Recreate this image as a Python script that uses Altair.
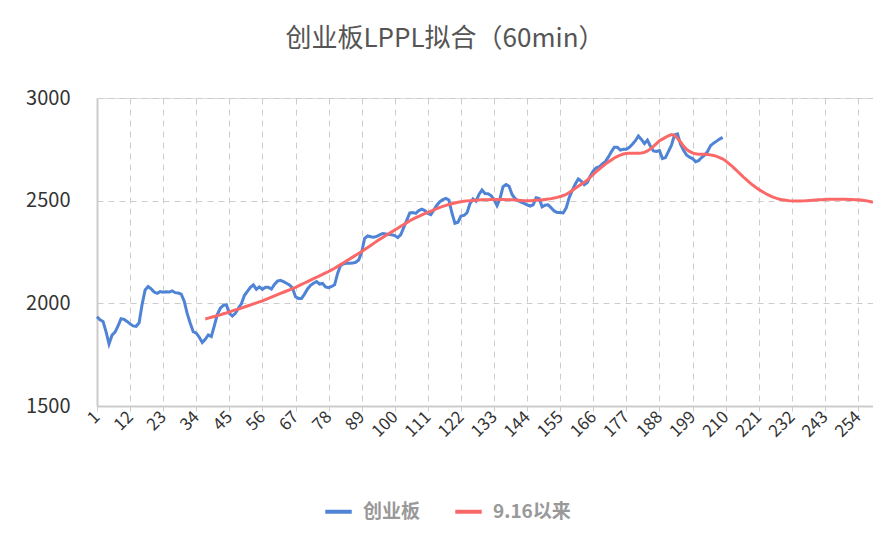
import altair as alt
import pandas as pd

# ---- data ----
blue_name = "创业板"
red_name = "9.16以来"

blue_start = 1
blue_values = [
    1935, 1920, 1912, 1862, 1802, 1845, 1860, 1890, 1925, 1922,
    1912, 1900, 1890, 1888, 1905, 1995, 2065, 2082, 2070, 2055,
    2049, 2057, 2054, 2056, 2055, 2061, 2052, 2050, 2045, 2010,
    1950, 1903, 1862, 1855, 1835, 1809, 1825, 1846, 1838, 1890,
    1945, 1976, 1990, 1993, 1951, 1938, 1951, 1976, 1998, 2038,
    2058, 2078, 2090, 2068, 2080, 2068, 2078, 2078, 2070, 2092,
    2108, 2112, 2106, 2098, 2090, 2075, 2032, 2024, 2024, 2045,
    2070, 2088, 2098, 2106, 2094, 2097, 2080, 2076, 2082, 2090,
    2146, 2185, 2193, 2195, 2195, 2196, 2200, 2211, 2250, 2317,
    2328, 2324, 2322, 2326, 2333, 2340, 2338, 2335, 2334, 2330,
    2320, 2335, 2370, 2405, 2440, 2442, 2438, 2452, 2459, 2452,
    2438, 2432, 2455, 2478, 2495, 2505, 2511, 2503, 2440, 2390,
    2395, 2425, 2428, 2440, 2485, 2508, 2497, 2530, 2552, 2535,
    2534, 2525, 2505, 2476, 2511, 2568, 2579, 2570, 2530, 2510,
    2500, 2493, 2487, 2480, 2474, 2480, 2514, 2510, 2470, 2478,
    2480, 2465, 2450, 2442, 2442, 2440, 2465, 2515, 2550, 2580,
    2606, 2595, 2578, 2588, 2620, 2645, 2660, 2665, 2679, 2690,
    2712, 2738, 2760, 2760, 2746, 2750, 2750, 2760, 2775, 2792,
    2815, 2798, 2778, 2795, 2765, 2742, 2740, 2744, 2705, 2710,
    2740, 2770, 2820, 2825, 2775, 2745, 2723, 2712, 2705, 2690,
    2695, 2710, 2722, 2740, 2768, 2780, 2790, 2800, 2808,
]

red_start = 37
red_values = [
    1924, 1928, 1932, 1936, 1940, 1944, 1949, 1953, 1958, 1963,
    1968, 1972, 1977, 1982, 1987, 1992, 1997, 2002, 2007, 2012,
    2018, 2024, 2030, 2036, 2042, 2048, 2054, 2060, 2066, 2072,
    2078, 2085, 2092, 2099, 2106, 2113, 2120, 2127, 2134, 2141,
    2148, 2155, 2163, 2171, 2180, 2189, 2198, 2207, 2216, 2225,
    2234, 2243, 2252, 2262, 2272, 2282, 2292, 2302, 2312, 2321,
    2330, 2339, 2348, 2357, 2366, 2375, 2384, 2393, 2402, 2410,
    2417, 2424, 2431, 2437, 2443, 2449, 2455, 2461, 2467, 2472,
    2477, 2481, 2485, 2489, 2492, 2495, 2497, 2499, 2500, 2501,
    2502, 2503, 2504, 2505, 2505, 2506, 2506, 2506, 2506, 2506,
    2505, 2505, 2504, 2503, 2502, 2501, 2500, 2500, 2500, 2501,
    2502, 2503, 2504, 2506, 2508, 2510, 2513, 2516, 2520, 2525,
    2531, 2540, 2550, 2560, 2570, 2580, 2590, 2600, 2614, 2628,
    2642, 2654, 2666, 2678, 2688, 2698, 2708, 2716, 2722, 2727,
    2730, 2731, 2731, 2731, 2731, 2732, 2735, 2742, 2752, 2764,
    2778, 2792, 2800, 2808, 2816, 2822, 2818, 2804, 2786, 2766,
    2750, 2740, 2733, 2728, 2726, 2726, 2726, 2725, 2723, 2720,
    2716, 2710, 2704, 2694, 2682, 2670, 2656, 2642, 2628, 2614,
    2601, 2588, 2576, 2565, 2555, 2546, 2537, 2529, 2522, 2516,
    2511, 2507, 2504, 2502, 2500, 2499, 2498, 2498, 2498, 2499,
    2500, 2501, 2502, 2503, 2504, 2505, 2506, 2507, 2507, 2507,
    2507, 2507, 2507, 2507, 2506, 2506, 2505, 2504, 2503, 2501,
    2499, 2496, 2492,
]

x_first, x_last = 1, 259
x_tick_labels = [1, 12, 23, 34, 45, 56, 67, 78, 89, 100, 111, 122, 133,
                 144, 155, 166, 177, 188, 199, 210, 221, 232, 243, 254]
y_ticks = [1500, 2000, 2500, 3000]

title_text = "创业板LPPL拟合（60min）"

# ---- table ----
rows = []
for i, v in enumerate(blue_values):
    rows.append({"idx": blue_start + i, "value": v, "series": blue_name, "order": 0})
for i, v in enumerate(red_values):
    rows.append({"idx": red_start + i, "value": v, "series": red_name, "order": 1})
df = pd.DataFrame(rows)

FONT = "Noto Sans CJK SC"
GRID = "#cccccc"

chart = (
    alt.Chart(df)
    .mark_line(strokeWidth=3, interpolate="linear")
    .encode(
        x=alt.X(
            "idx:Q",
            scale=alt.Scale(domain=[x_first, x_last], nice=False, zero=False),
            axis=alt.Axis(
                values=x_tick_labels,
                format="d",
                title=None,
                labelAngle=-45,
                labelAlign="right",
                labelBaseline="middle",
                labelFontSize=17,
                labelColor="#333333",
                labelFont=FONT,
                labelPadding=3,
                labelOverlap=False,
                ticks=True,
                tickSize=5,
                tickColor=GRID,
                domainColor=GRID,
                domainWidth=2,
                grid=True,
                gridColor=GRID,
                gridDash=[6, 5],
                gridWidth=1,
            ),
        ),
        y=alt.Y(
            "value:Q",
            scale=alt.Scale(domain=[1500, 3000], nice=False, zero=False),
            axis=alt.Axis(
                values=y_ticks,
                format="d",
                title=None,
                ticks=False,
                labelFontSize=20,
                labelColor="#333333",
                labelFont=FONT,
                labelPadding=27,
                domainColor=GRID,
                domainWidth=2,
                grid=True,
                gridColor=GRID,
                gridDash=[6, 5],
                gridWidth=1,
            ),
        ),
        color=alt.Color(
            "series:N",
            scale=alt.Scale(domain=[blue_name, red_name], range=["#4f83d5", "#fb6868"]),
            sort=[blue_name, red_name],
            legend=alt.Legend(
                title=None,
                orient="none",
                direction="horizontal",
                legendX=226,
                legendY=398,
                symbolType="stroke",
                symbolSize=700,
                symbolStrokeWidth=4,
                labelFont=FONT,
                labelFontSize=19,
                labelFontWeight="bold",
                labelColor="#999999",
                labelOffset=9,
                columnPadding=26,
            ),
        ),
        order="order:Q",
    )
    .properties(
        width=776,
        height=308,
        title=alt.TitleParams(
            text=title_text,
            font=FONT,
            fontSize=26,
            fontWeight="normal",
            color="#555555",
            anchor="middle",
            dx=-40,
            offset=36,
        ),
        autosize=alt.AutoSizeParams(type="none"),
        padding={"left": 89, "top": 90, "right": 0, "bottom": 140},
    )
    .configure_view(stroke=None)
    .configure(background="white")
)

chart.save("out.html", embed_options={"renderer": "svg", "actions": False})
